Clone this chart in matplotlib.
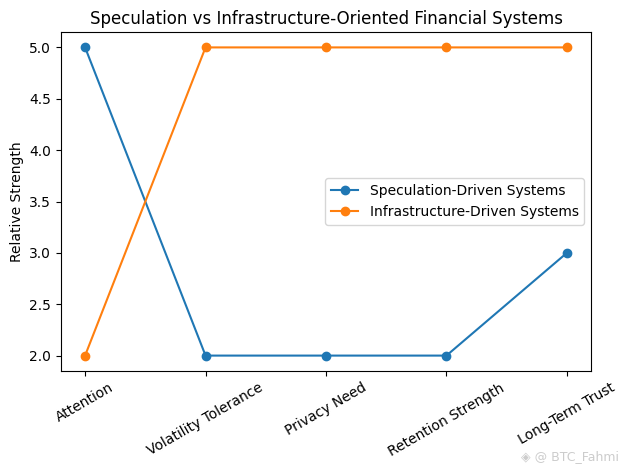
import matplotlib
matplotlib.use('Agg')
import matplotlib.pyplot as plt

categories = ['Attention', 'Volatility Tolerance', 'Privacy Need',
              'Retention Strength', 'Long-Term Trust']
speculation = [5, 2, 2, 2, 3]
infrastructure = [2, 5, 5, 5, 5]

fig, ax = plt.subplots(figsize=(6.28, 4.70), dpi=100)
ax.plot(categories, speculation, marker='o', label='Speculation-Driven Systems')
ax.plot(categories, infrastructure, marker='o', label='Infrastructure-Driven Systems')
ax.set_ylabel('Relative Strength')
ax.set_title('Speculation vs Infrastructure-Oriented Financial Systems')
plt.xticks(rotation=30)
ax.legend()
fig.subplots_adjust(left=61/628, right=591/628, top=1-32/470, bottom=1-371/470)
fig.text(0.985, 0.015, '\u25c8 @ BTC_Fahmi', ha='right', va='bottom',
         fontsize=9, color='#cccccc')
fig.savefig('out.png')
